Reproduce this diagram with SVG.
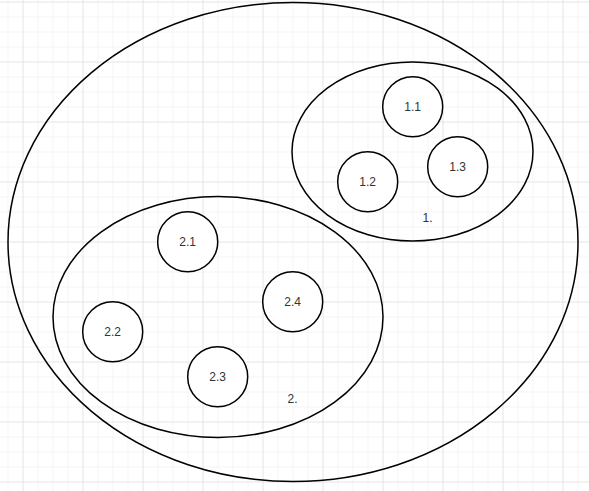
<svg xmlns="http://www.w3.org/2000/svg" width="589" height="491" viewBox="0 0 589 491">
<defs>
<pattern id="minor" x="7.5" y="1.5" width="15" height="15" patternUnits="userSpaceOnUse">
<path d="M0 0V15M0 0H15" fill="none" stroke="#ececec" stroke-width="1"/>
</pattern>
<pattern id="major" x="22.5" y="1.5" width="60" height="60" patternUnits="userSpaceOnUse">
<path d="M0 0V60M0 0H60" fill="none" stroke="#dadada" stroke-width="1"/>
</pattern>
</defs>
<style>
.shape{fill:none;stroke:#000;stroke-width:1.5}
.node{fill:#fff;stroke:#000;stroke-width:1.5}
.lbl{font-family:"Liberation Sans",Arial,sans-serif;font-size:12px;fill:#333;text-anchor:middle;dominant-baseline:central}
</style>
<rect width="589" height="491" fill="#fff"/>
<rect width="589" height="491" fill="url(#minor)"/>
<rect width="589" height="491" fill="url(#major)"/>
<g id="outer"><ellipse class="shape" cx="293" cy="242" rx="285" ry="239.5"/></g>
<g id="group1">
<ellipse class="shape" cx="412.5" cy="151.5" rx="120.5" ry="89.5"/>
<text class="lbl" x="427.5" y="218">1.</text>
</g>
<g id="group2">
<ellipse class="shape" cx="218" cy="317" rx="165" ry="120.5"/>
<text class="lbl" x="292.5" y="398.5">2.</text>
</g>
<g id="n1-1"><circle class="node" cx="412.7" cy="106.7" r="30"/><text class="lbl" x="412.7" y="106.7">1.1</text></g>
<g id="n1-2"><circle class="node" cx="367.7" cy="181.7" r="30"/><text class="lbl" x="367.7" y="181.7">1.2</text></g>
<g id="n1-3"><circle class="node" cx="457.7" cy="166.7" r="30"/><text class="lbl" x="457.7" y="166.7">1.3</text></g>
<g id="n2-1"><circle class="node" cx="187.7" cy="241.7" r="30"/><text class="lbl" x="187.7" y="241.7">2.1</text></g>
<g id="n2-2"><circle class="node" cx="112.7" cy="331.7" r="30"/><text class="lbl" x="112.7" y="331.7">2.2</text></g>
<g id="n2-3"><circle class="node" cx="217.7" cy="376.7" r="30"/><text class="lbl" x="217.7" y="376.7">2.3</text></g>
<g id="n2-4"><circle class="node" cx="292.7" cy="301.7" r="30"/><text class="lbl" x="292.7" y="301.7">2.4</text></g>
<g id="connectors"></g>
</svg>
